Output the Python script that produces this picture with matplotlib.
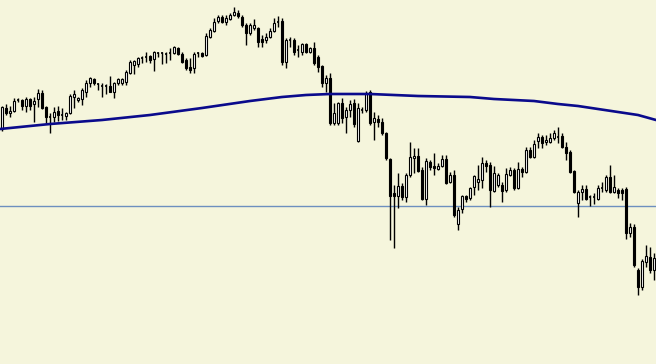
import numpy as np
import matplotlib
matplotlib.use("Agg")
import matplotlib.pyplot as plt

# --- DATA (chart levels, 0 = top of the chart) ------------------------------
opens = [129, 108, 113, 111, 100, 100, 106, 99, 104, 99, 93, 107, 117, 117, 111, 115, 116, 113, 97, 100,
         99, 92, 83, 79, 84, 86, 86, 86, 92, 83, 83, 82, 73, 65, 64, 58, 57, 56, 59, 53,
         53, 54, 53, 53, 48, 54, 60, 67, 68, 53, 53, 55, 37, 31, 21, 17, 22, 19, 15, 13,
         17, 25, 33, 28, 28, 39, 40, 37, 31, 22, 21, 62, 40, 40, 50, 52, 44, 52, 48, 57,
         66, 83, 78, 123, 123, 103, 117, 110, 103, 141, 110, 110, 92, 122, 119, 122, 133, 159, 193, 196,
         186, 197, 175, 157.5, 156, 170, 199, 162, 166, 169, 166, 159, 182, 175, 224, 209, 196, 198, 187, 182,
         180, 163, 165, 191, 185, 185, 190, 175, 170, 188, 169, 172, 150, 157, 141, 137, 142, 142, 138, 137,
         136, 147, 152, 171, 203, 192, 189, 197, 197, 199, 188, 190, 177, 192, 190, 190, 189, 233, 227, 270,
         287, 262, 257, 270]
highs = [106, 104, 106, 98, 98, 99, 97, 98, 97, 89, 90, 106, 113, 107, 106, 108, 112, 94, 90, 97,
         88, 80, 77, 78, 83, 83, 84, 76, 82, 78, 78, 70, 60, 60, 57, 56, 52, 55, 51, 52,
         52, 52, 48, 46, 47, 52, 58, 58, 52, 52, 52, 33, 28, 18, 15, 15, 15, 13, 7, 10,
         15, 23, 23, 19, 27, 35, 33, 28, 18, 16, 18, 38, 37, 38, 45, 43, 43, 47, 42, 55,
         65, 75, 73, 103, 102, 98, 107, 100, 99, 103, 107, 91, 90, 112, 115, 118, 132, 158, 185, 173,
         183, 173, 142, 148, 148, 167, 158, 160, 153, 163, 155, 155, 172, 170, 207, 195, 195, 187, 175, 165,
         157, 160, 162, 166, 173, 182, 168, 167, 168, 162, 167, 147, 147, 140, 133, 135, 135, 133, 130, 127,
         133, 142, 150, 170, 190, 185, 185, 195, 193, 185, 182, 175, 165, 175, 188, 188, 187, 223, 224, 268,
         259, 245, 247, 253]
lows = [131, 115, 117, 112, 102, 110, 112, 110, 122, 107, 109, 123, 133, 122, 121, 120, 120, 114, 108, 102,
        105, 97, 87, 85, 90, 97, 94, 92, 98, 85, 85, 85, 74, 74, 67, 63, 62, 63, 71, 57,
        64, 63, 60, 54, 55, 63, 70, 73, 73, 57, 57, 56, 38, 32, 23, 23, 25, 20, 16, 18,
        27, 45, 35, 30, 47, 47, 43, 38, 32, 27, 65, 68, 47, 55, 57, 55, 53, 53, 65, 72,
        87, 92, 125, 125, 125, 123, 133, 117, 127, 142, 113, 112, 125, 140, 127, 135, 160, 240, 248, 208,
        200, 202, 177, 173, 172, 200, 205, 170, 175, 170, 167, 184, 183, 217, 230, 213, 202, 200, 195, 190,
        188, 172, 207, 192, 187, 202, 192, 176, 190, 189, 177, 173, 158, 158, 148, 148, 145, 143, 140, 143,
        148, 160, 173, 193, 217, 200, 200, 206, 204, 200, 192, 192, 193, 193, 198, 200, 239, 237, 267, 295,
        290, 267, 273, 280]
closes = [107, 113, 111, 101, 100, 106, 99, 106, 101, 93, 108, 117, 117, 112, 115, 115, 113, 96, 94, 98,
          90, 83, 78, 83, 84, 86, 86, 92, 83, 79, 79, 72, 62, 61, 58, 58, 57, 60, 52, 53,
          53, 54, 53, 47, 54, 62, 68, 70, 54, 53, 56, 36, 30, 22, 17, 22, 18, 15, 12, 16,
          25, 33, 25, 25, 42, 42, 37, 31, 23, 22, 62, 40, 40, 52, 50, 44, 52, 48, 63, 67,
          83, 78, 123, 113, 103, 118, 110, 104, 124, 108, 110, 94, 123, 118, 122, 133, 158, 196, 196, 186,
          197, 175, 157, 155.5, 171, 199, 161, 167, 168, 166, 159, 183, 175, 215, 210, 196, 199, 188, 176, 179,
          163, 166, 190, 173, 175, 191, 174, 170, 188, 169, 172, 150, 157, 144, 137, 143, 140, 138, 133, 137,
          147, 153, 172, 192, 192, 189, 199, 197, 197, 188, 188, 177, 192, 187, 193, 193, 233, 227, 265, 287,
          261, 256, 270, 258]

# long moving average, read at a few bars
ma_bars = [-0.5, 12, 25, 37, 50, 62, 70, 76, 82, 92, 104, 117, 123, 133, 139, 144, 149, 154, 159, 163.5]
ma_levels = [129, 124, 120, 115, 108, 101, 97, 95, 94, 94, 96, 97, 99, 101, 104, 106, 109, 112, 115, 120]

# horizontal level line
level_line = 206

# -----------------------------------------------------------------------------
BG = "#f5f5dc"
MA_COLOR = "#0a0a8c"
LEVEL_COLOR = "#6d8fbf"


def to_price(v):
    # chart levels are measured downward from the top, flip into price-like units
    return 364 - np.asarray(v, dtype=float)


o = to_price(opens)
h = to_price(highs)
l = to_price(lows)
c = to_price(closes)
n = len(o)
x = np.arange(n)

fig = plt.figure(figsize=(6.56, 3.64), dpi=100)
fig.patch.set_facecolor(BG)
ax = fig.add_axes([0, 0, 1, 1])
ax.set_facecolor(BG)

ax.axhline(to_price(level_line), color=LEVEL_COLOR, lw=1.0, zorder=1)

body_w = 0.7
for i in range(n):
    ax.vlines(x[i], l[i], h[i], color="black", lw=1.0, zorder=3)
    bottom = min(o[i], c[i])
    height = abs(c[i] - o[i])
    if height < 0.6:
        ax.hlines(o[i], x[i] - body_w / 2, x[i] + body_w / 2, color="black", lw=1.2, zorder=4)
        continue
    face = "white" if c[i] > o[i] else "black"
    ax.bar(x[i], height, bottom=bottom, width=body_w, color=face,
           edgecolor="black", linewidth=0.8, zorder=4)

ax.plot(ma_bars, to_price(ma_levels), color=MA_COLOR, lw=1.9, zorder=5,
        solid_joinstyle="round")

ax.set_xlim(-0.5, n - 0.5)
ax.set_ylim(0, 364)
ax.set_xticks([])
ax.set_yticks([])
for s in ax.spines.values():
    s.set_visible(False)

fig.savefig("out.png", dpi=100, facecolor=BG)
